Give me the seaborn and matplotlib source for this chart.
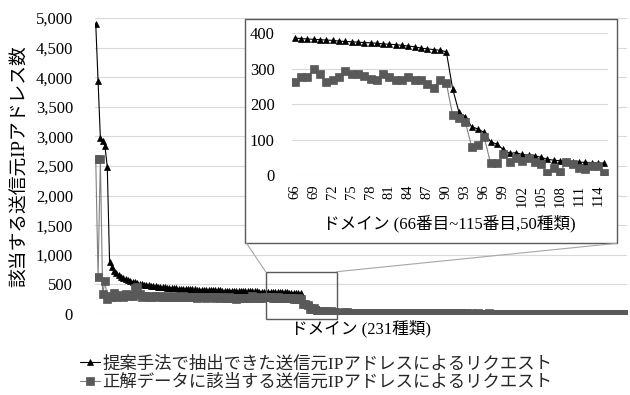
import numpy as np
import pandas as pd
import seaborn as sns
import matplotlib
matplotlib.use("Agg")
import matplotlib.pyplot as plt
from matplotlib.patches import Rectangle
from matplotlib.lines import Line2D
from matplotlib.ticker import FuncFormatter

# ---------------- data ----------------
series_names = ["提案手法で抽出できた送信元IPアドレスによるリクエスト",
                "正解データに該当する送信元IPアドレスによるリクエスト"]

extracted = [
    4899, 3936, 2978, 2922, 2838, 2488, 884, 790, 730, 690,        # 1-10
    660, 630, 605, 585, 570, 555, 545, 535, 525, 515,              # 11-20
    505, 498, 490, 483, 477, 471, 466, 461, 456, 452,              # 21-30
    448, 444, 441, 438, 435, 432, 429, 426, 424, 422,              # 31-40
    420, 418, 416, 414, 412, 410, 408, 406, 404, 402,              # 41-50
    401, 400, 399, 398, 397, 396, 395, 394, 393, 392,              # 51-60
    391, 390, 389, 389, 388,                                       # 61-65
    387, 385, 384, 383, 382, 381, 380, 378, 377, 376,              # 66-75
    375, 374, 373, 372, 370, 369, 368, 366, 364, 362,              # 76-85
    358, 356, 354, 352, 348,                                       # 86-90
    243, 177, 165, 136, 130, 120, 94, 87, 72, 61,                  # 91-100
    63, 58, 56, 54, 50, 44, 42, 40, 39, 38,                        # 101-110
    36, 36, 35, 34, 33,                                            # 111-115
    30, 29, 29, 28, 28, 27, 27, 26, 26, 25,                        # 116-125
    25, 24, 24, 23, 23, 22, 22, 21, 21, 20,
    20, 20, 19, 19, 19, 18, 18, 18, 17, 17,
    17, 16, 16, 16, 15, 15, 15, 14, 14, 14,
    14, 13, 13, 13, 12, 12, 12, 12, 11, 11,
    11, 11, 10, 10, 10, 10, 9, 9, 9, 9,
    9, 8, 8, 8, 8, 8, 7, 7, 7, 7,
    7, 6, 6, 6, 6, 6, 6, 5, 5, 5,
    5, 5, 5, 4, 4, 4, 4, 4, 4, 4,
    3, 3, 3, 3, 3, 3, 3, 3, 2, 2,
    2, 2, 2, 2, 2, 2, 2, 1, 1, 1,                                  # 216-225
    1, 1, 1, 1, 1, 1,                                              # 226-231
]

correct = [
    2613, 630, 2620, 330, 560, 250, 300, 280, 350, 290,            # 1-10
    320, 300, 280, 330, 320, 300, 310, 440, 460, 330,              # 11-20
    290, 300, 310, 290, 280, 300, 310, 290, 300, 285,              # 21-30
    295, 300, 290, 280, 300, 295, 285, 290, 300, 280,              # 31-40
    290, 285, 295, 280, 275, 290, 285, 280, 270, 285,              # 41-50
    290, 280, 275, 285, 270, 280, 275, 265, 280, 270,              # 51-60
    275, 260, 270, 268, 265,                                       # 61-65
    263, 277, 277, 298, 284, 263, 269, 277, 293, 284,              # 66-75
    284, 280, 271, 268, 284, 277, 269, 268, 277, 268,              # 76-85
    268, 257, 247, 268, 259,                                       # 86-90
    169, 162, 150, 80, 85, 106, 33, 33, 58, 38,                    # 91-100
    49, 40, 49, 36, 30, 5, 21, 9, 36, 30,                          # 101-110
    19, 18, 24, 24, 5,                                             # 111-115
    22, 25, 18, 20, 24, 15, 19, 21, 14, 18,                        # 116-125
    20, 16, 12, 17, 19, 13, 15, 18, 11, 14,
    16, 12, 14, 10, 13, 15, 9, 12, 14, 10,
    11, 13, 9, 10, 12, 8, 11, 9, 10, 12,
    8, 9, 11, 7, 10, 8, 9, 7, 10, 8,
    7, 9, 8, 6, 8, 7, 9, 6, 7, 8,
    6, 7, 5, 7, 6, 8, 5, 6, 7, 5,
    6, 5, 7, 4, 5, 6, 4, 5, 6, 4,
    5, 4, 3, 5, 4, 3, 4, 5, 3, 4,
    3, 2, 3, 4, 2, 3, 2, 3, 2, 2,
    2, 1, 2, 2, 1, 2, 1, 1, 2, 1,                                  # 216-225
    1, 1, 0, 1, 1, 0,                                              # 226-231
]

domain = list(range(1, len(extracted) + 1))
zoom_first, zoom_last = 66, 115
main_xlabel = "ドメイン (231種類)"
inset_xlabel = "ドメイン (66番目~115番目,50種類)"
ylabel = "該当する送信元IPアドレス数"
main_yticks = [0, 500, 1000, 1500, 2000, 2500, 3000, 3500, 4000, 4500, 5000]
inset_yticks = [0, 100, 200, 300, 400]
inset_xticks = list(range(66, 116, 3))

df = pd.DataFrame({"domain": domain, "extracted": extracted, "correct": correct})
df_zoom = df[(df.domain >= zoom_first) & (df.domain <= zoom_last)]

# ---------------- style ----------------
sns.set_theme(style="white")
plt.rcParams["font.family"] = ["Liberation Serif", "Noto Sans CJK JP"]
plt.rcParams["axes.unicode_minus"] = False

W, H = 630, 395
fig = plt.figure(figsize=(W / 100, H / 100), dpi=100)


def fx(px):
    return px / W


def fy(py):
    return 1 - py / H


GRID = "#d9d9d9"
TRI = dict(color="black", marker="^", markersize=5, markeredgewidth=0.5,
           markerfacecolor="black", markeredgecolor="black", linewidth=0.8)
SQ = dict(color="#808080", marker="s", markersize=5.3, markeredgewidth=0.5,
          markerfacecolor="#595959", markeredgecolor="#595959", linewidth=0.8)

# ---------------- main axes ----------------
ax = fig.add_axes([fx(94.6), fy(314), fx(626.5) - fx(94.6), fy(18) - fy(314)])
sns.lineplot(data=df, x="domain", y="extracted", ax=ax, zorder=2, **TRI)
sns.lineplot(data=df, x="domain", y="correct", ax=ax, zorder=3, **SQ)
ax.set_xlim(0.5, len(domain) + 0.5)
ax.set_ylim(0, 5000)
ax.set_yticks(main_yticks)
ax.yaxis.set_major_formatter(FuncFormatter(lambda v, p: f"{int(v):,}"))
ax.set_xticks([])
ax.grid(axis="y", color=GRID, linewidth=0.8)
for s in ax.spines.values():
    s.set_visible(False)
ax.tick_params(axis="y", length=0, pad=15.5, labelsize=12, labelcolor="black")
ax.set_xlabel(main_xlabel, fontsize=12, labelpad=4, color="black")
ax.set_ylabel(ylabel, fontsize=13.5, labelpad=5, color="black")

# ---------------- inset frame ----------------
frame = Rectangle((fx(245), fy(243.3)), fx(616.7) - fx(245), fy(19.3) - fy(243.3),
                  transform=fig.transFigure, facecolor="white", edgecolor="#595959",
                  linewidth=1.0, zorder=1)
fig.add_artist(frame)

# zoom rectangle and connectors
zrect = Rectangle((fx(265.7), fy(319.3)), fx(336.7) - fx(265.7), fy(271.7) - fy(319.3),
                  transform=fig.transFigure, facecolor="none", edgecolor="#595959",
                  linewidth=1.0, zorder=4)
fig.add_artist(zrect)
fig.add_artist(Line2D([fx(246.5), fx(265.7)], [fy(243.3), fy(271.7)],
                      transform=fig.transFigure, color="#a6a6a6", linewidth=0.8, zorder=4))
fig.add_artist(Line2D([fx(336.7), fx(616.7)], [fy(271.7), fy(243.3)],
                      transform=fig.transFigure, color="#a6a6a6", linewidth=0.8, zorder=4))

# ---------------- inset axes ----------------
axi = fig.add_axes([fx(291.5), fy(175), fx(607.5) - fx(291.5), fy(33.3) - fy(175)], zorder=5)
sns.lineplot(data=df_zoom, x="domain", y="extracted", ax=axi, zorder=2, **TRI)
sns.lineplot(data=df_zoom, x="domain", y="correct", ax=axi, zorder=3, **SQ)
axi.set_xlim(zoom_first - 0.5, zoom_last + 0.5)
axi.set_ylim(0, 400)
axi.set_yticks(inset_yticks)
axi.set_xticks(inset_xticks)
axi.set_xticklabels([str(t) for t in inset_xticks], rotation=90)
axi.grid(axis="y", color=GRID, linewidth=0.8)
axi.grid(axis="x", visible=False)
for s in axi.spines.values():
    s.set_visible(False)
axi.patch.set_alpha(0)
axi.tick_params(axis="y", length=0, pad=12, labelsize=12, labelcolor="black")
axi.tick_params(axis="x", length=0, pad=7, labelsize=10.5, labelcolor="black")
axi.set_xlabel(inset_xlabel, fontsize=12, labelpad=6, color="black")
axi.set_ylabel("")

# ---------------- legend ----------------
handles = [Line2D([], [], **TRI), Line2D([], [], **SQ)]
fig.legend(handles, series_names, loc="upper left",
           bbox_to_anchor=(fx(80), fy(356)), frameon=False, fontsize=12.5,
           handlelength=1.15, handletextpad=0.15, labelspacing=0.12,
           borderpad=0, borderaxespad=0)

fig.savefig("out.png", dpi=100)
